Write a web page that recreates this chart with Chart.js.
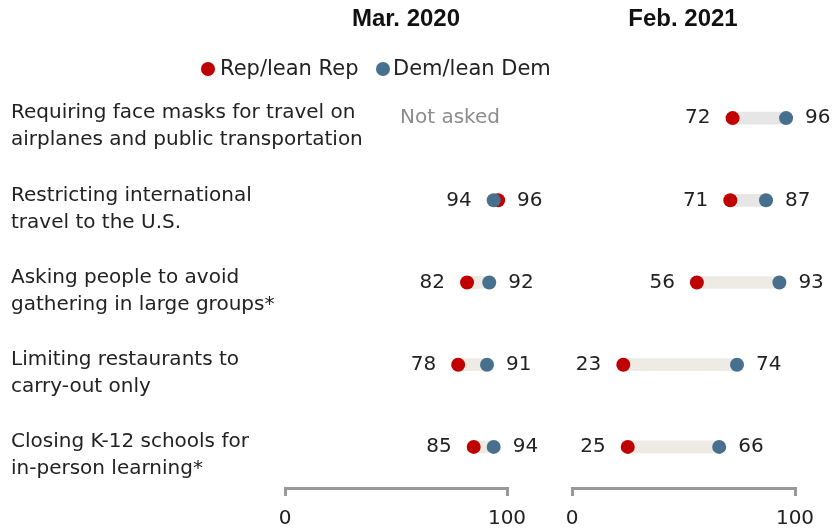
<!DOCTYPE html>
<html>
<head>
<meta charset="utf-8">
<script src="https://cdn.jsdelivr.net/npm/chart.js@4.4.1/dist/chart.umd.min.js"></script>
<style>
  body { margin: 0; background: #fff; }
  #wrap { position: relative; width: 838px; height: 529px; overflow: hidden; font-family: "DejaVu Sans", sans-serif; color: #222; }
  canvas { position: absolute; left: 0; top: 0; }
  .title { position: absolute; top: 4px; font-family: "Liberation Sans", Arial, sans-serif; font-size: 24px; font-weight: bold; color: #111; transform: translateX(-50%); white-space: nowrap; }
  .leg { position: absolute; top: 56px; font-size: 21px; white-space: nowrap; }
  .dot { position: absolute; top: 62px; width: 14px; height: 14px; border-radius: 50%; }
</style>
</head>
<body>
<div id="wrap">
  <canvas id="chartMar" width="838" height="529"></canvas>
  <canvas id="chartFeb" width="838" height="529"></canvas>
  <div class="title" style="left:406px">Mar. 2020</div>
  <div class="title" style="left:683px">Feb. 2021</div>
  <span class="dot" style="left:201px;background:#c00000"></span>
  <span class="leg" style="left:220px">Rep/lean Rep</span>
  <span class="dot" style="left:376px;background:#47708e"></span>
  <span class="leg" style="left:393px">Dem/lean Dem</span>
</div>
<script>
const categories = [
  ["Requiring face masks for travel on", "airplanes and public transportation"],
  ["Restricting international", "travel to the U.S."],
  ["Asking people to avoid", "gathering in large groups*"],
  ["Limiting restaurants to", "carry-out only"],
  ["Closing K-12 schools for", "in-person learning*"]
];
const repMar = [null, 96, 82, 78, 85];
const demMar = [null, 94, 92, 91, 94];
const repFeb = [72, 71, 56, 23, 25];
const demFeb = [96, 87, 93, 74, 66];
const xTicks = [0, 100];

const RED = "#c00000";
const BLUE = "#47708e";
const FONT = "'DejaVu Sans', sans-serif";
const barColors = ["#e6e6e6", "#e6e6e6", "#eeebe4", "#eeebe4", "#eeebe4"];

//numbers next to the dots, or "Not asked"
const valueLabels = {
  id: "valueLabels",
  afterDatasetsDraw(chart) {
    const ctx = chart.ctx;
    const x = chart.scales.x;
    const y = chart.scales.y;
    const dem = chart.data.datasets[0].data;
    const rep = chart.data.datasets[1].data;
    ctx.save();
    ctx.textBaseline = "middle";
    ctx.font = "20px " + FONT;
    rep.forEach((r, i) => {
      const d = dem[i];
      const yy = y.getPixelForValue(i);
      if (r == null || d == null) {
        ctx.fillStyle = "#8c8c8c";
        ctx.textAlign = "left";
        ctx.fillText("Not asked", 400, yy);
        return;
      }
      const lo = Math.min(r, d), hi = Math.max(r, d);
      ctx.fillStyle = "#222";
      ctx.textAlign = "right";
      ctx.fillText(lo, x.getPixelForValue(lo) - 22, yy);
      ctx.textAlign = "left";
      ctx.fillText(hi, x.getPixelForValue(hi) + 19, yy);
    });
    ctx.restore();
  }
};

//row labels on the left, drawn by hand so they can run past the axis box
const rowLabels = {
  id: "rowLabels",
  afterDraw(chart) {
    if (!chart.options.plugins.rowLabels.show) return;
    const ctx = chart.ctx;
    const y = chart.scales.y;
    ctx.save();
    ctx.font = "20px " + FONT;
    ctx.fillStyle = "#222";
    ctx.textAlign = "left";
    ctx.textBaseline = "middle";
    chart.data.labels.forEach((lines, i) => {
      const yy = y.getPixelForValue(i) - 5;
      lines.forEach((t, k) => ctx.fillText(t, 11, yy + k * 27));
    });
    ctx.restore();
  }
};

function makeChart(id, rep, dem, showLabels, padLeft, padRight) {
  const ctx = document.getElementById(id).getContext("2d");
  const bars = rep.map((r, i) => (r == null ? null : [r, dem[i]]));
  return new Chart(ctx, {
    type: "bar",
    data: {
      labels: categories,
      datasets: [
        { type: "line", label: "Dem/lean Dem", data: dem, indexAxis: "y", showLine: false,
          pointRadius: 7, pointHoverRadius: 7, pointBackgroundColor: BLUE, pointBorderWidth: 0, borderColor: BLUE },
        { type: "line", label: "Rep/lean Rep", data: rep, indexAxis: "y", showLine: false,
          pointRadius: 7, pointHoverRadius: 7, pointBackgroundColor: RED, pointBorderWidth: 0, borderColor: RED },
        { type: "bar", label: "gap", data: bars, backgroundColor: barColors, barThickness: 12, borderSkipped: false }
      ]
    },
    options: {
      indexAxis: "y",
      responsive: false,
      animation: false,
      layout: { padding: { left: padLeft, right: padRight, top: 77, bottom: 0 } },
      plugins: { legend: { display: false }, tooltip: { enabled: false }, rowLabels: { show: showLabels } },
      scales: {
        x: {
          type: "linear", min: 0, max: 100,
          afterBuildTicks: (s) => { s.ticks = xTicks.map((v) => ({ value: v })); },
          afterFit: (s) => { s.height = 41; },
          grid: { drawOnChartArea: false, drawTicks: true, tickLength: 8, color: "#999", lineWidth: 3 },
          border: { display: true, color: "#999", width: 3 },
          ticks: { color: "#222", padding: 11, font: { size: 20, family: FONT } }
        },
        y: { display: false }
      }
    },
    plugins: [valueLabels, rowLabels]
  });
}

makeChart("chartMar", repMar, demMar, true, 285, 331);
makeChart("chartFeb", repFeb, demFeb, false, 572, 43);
</script>
</body>
</html>
